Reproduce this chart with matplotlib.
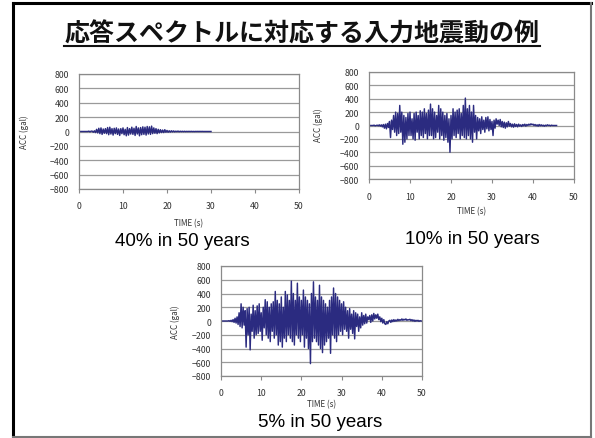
import numpy as np
import matplotlib
matplotlib.use("Agg")
import matplotlib.pyplot as plt
from matplotlib.lines import Line2D

plt.rcParams['font.family'] = ['Noto Sans CJK JP', 'DejaVu Sans']

title = "応答スペクトルに対応する入力地震動の例"
dt = 0.25  # sample interval (s)

# 40% in 50 years (gal)
acc_40 = [
    0, 0, 0, 0,  0, 0, 0, 0,  0, 5, -5, 5,  5, -10, 10, -15,
    30, -20, 45, -30,  50, -40, 35, -25,  40, -30, 55, -45,  60, -35, 40, -50,
    45, -30, 50, -40,  35, -55, 40, -30,  50, -45, 30, -60,  55, -50, 40, -35,
    60, -40, 45, -55,  70, -35, 50, -60,  55, -45, 65, -40,  60, -50, 70, -35,
    65, -40, 75, -30,  50, -25, 40, -30,  30, -20, 25, -15,  20, -15, 25, -10,
    15, -10, 10, -8,  10, -5, 8, -5,  5, -3, 6, -4,  4, -2, 3, -2,
    3, -2, 2, -1,  2, -1, 2, -1,  1, -1, 1, 0,  1, 0, 1, 0,
    1, 0, 0, 0,  0, 0, 0, 0,  0,
]

# 10% in 50 years (gal)
acc_10 = [
    0, 0, 0, 0,  0, 5, -5, 0,  5, -5, 10, -10,  10, -20, 15, -40,
    20, -50, 30, -30,  60, -180, 80, -60,  150, -100, 200, -150,  180, -120, 300, -100,
    200, -280, 150, -250,  120, -200, 180, -150,  200, -150, 100, -200,  180, -220, 200, -100,
    150, -200, 220, -150,  200, -180, 250, -120,  180, -200, 230, -150,  320, -150, 250, -200,
    200, -180, 150, -100,  300, -200, 250, -150,  200, -220, 150, -180,  180, -250, 100, -400,
    150, -200, 250, -150,  200, -180, 230, -120,  250, -200, 180, -150,  300, -180, 410, -200,
    250, -150, 300, -200,  200, -250, 300, -100,  150, -200, 120, -80,  100, -120, 130, -60,
    80, -100, 120, -50,  130, -80, 90, -60,  60, -150, 80, -40,  100, 20, 80, 0,
    90, -20, 60, -30,  50, -40, 40, -20,  60, -10, 30, -20,  20, -25, 25, -15,
    15, -20, 20, -10,  10, -15, 15, -5,  20, -10, 15, 0,  20, 5, 25, 10,
    20, 0, 15, -5,  10, -10, 15, -5,  10, -5, 5, -10,  5, -5, 10, 0,
    5, -5, 5, 0,  0, 0, 0, 0,
]

# 5% in 50 years (gal)
acc_5 = [
    0, 0, 0, 0,  0, 0, 0, 0,  5, -5, 10, -10,  20, -20, 40, -30,
    60, -50, 120, -80,  250, -100, 200, -60,  150, -380, 180, -200,  200, -420, 100, -150,
    230, -250, 150, -200,  220, -180, 250, -150,  120, -280, 200, -100,  310, -200, 280, -250,
    200, -300, 250, -150,  280, -250, 430, -200,  300, -350, 250, -300,  350, -380, 200, -250,
    430, -300, 380, -200,  300, -250, 580, -300,  400, -350, 300, -200,  550, -250, 350, -300,
    300, -200, 450, -380,  350, -250, 300, -400,  250, -620, 400, -300,  570, -250, 350, -300,
    300, -350, 520, -400,  350, -460, 300, -350,  250, -300, 200, -250,  300, -470, 350, -200,
    480, -250, 400, -300,  350, -200, 300, -150,  250, -200, 280, -120,  200, -150, 150, -250,
    180, -120, 100, -180,  150, -260, 120, -80,  100, -150, 60, -100,  120, -60, 80, -40,
    100, -30, 60, 20,  80, -20, 90, 0,  110, 30, 90, 40,  100, 20, 60, -10,
    40, -30, 20, -40,  -50, -10, -40, 0,  10, -20, 15, -10,  20, -5, 15, 0,
    25, 5, 20, 10,  30, 10, 25, 15,  30, 10, 20, 15,  25, 5, 20, 0,
    15, -5, 10, 0,  10, -5, 5, 0,  0,
]

panels = [
    # data, axes rect (px: left, top, right, bottom), caption, caption xy, ACC label xy, TIME label y
    (acc_40, (79, 75, 299, 190), "40% in 50 years", (182, 242), (24, 132), 224),
    (acc_10, (369, 73, 574, 180), "10% in 50 years", (472, 240), (318, 125), 212),
    (acc_5, (221, 267, 422, 377), "5% in 50 years", (320, 423), (175, 322), 405),
]

W, H = 595, 439
fig = plt.figure(figsize=(W / 100, H / 100), dpi=100)
fig.patch.set_facecolor('white')


def fx(x):
    return x / W


def fy(y):
    return 1 - y / H


for data, (l, t, r, b), cap, (cx, cy), (ax_x, ax_y), ty in panels:
    ax = fig.add_axes([fx(l), fy(b), (r - l) / W, (b - t) / H])
    time = np.arange(len(data)) * dt
    ax.plot(time, data, color='#2b2b80', lw=1.05)
    ax.set_xlim(0, 50)
    ax.set_ylim(-800, 800)
    ax.set_xticks(np.arange(0, 51, 10))
    ax.set_yticks(np.arange(-800, 801, 200))
    ax.grid(axis='y', color='#9a9a9a', lw=0.9)
    ax.set_axisbelow(True)
    for s in ax.spines.values():
        s.set_color('#8a8a8a')
        s.set_linewidth(0.9)
    ax.tick_params(axis='y', length=0, pad=7, labelsize=6.3, labelcolor='#333333')
    ax.tick_params(axis='x', length=3, direction='out', color='#8a8a8a',
                   pad=6, labelsize=6.3, labelcolor='#333333')
    fig.text(fx(ax_x), fy(ax_y), "ACC (gal)", rotation=90, ha='center', va='center',
             fontsize=5.8, color='#333333')
    fig.text(fx((l + r) / 2), fy(ty), "TIME (s)", ha='center', va='center',
             fontsize=5.8, color='#333333')
    fig.text(fx(cx), fy(cy), cap, ha='center', va='center', fontsize=13.5,
             family=['Liberation Sans', 'DejaVu Sans'], color='black')

# slide title with underline
fig.text(fx(302), fy(34), title, ha='center', va='center', fontsize=18,
         weight='bold', color='#111111')
fig.add_artist(Line2D([fx(64), fx(540)], [fy(47), fy(47)], color='#111111', lw=1.5))

# slide frame
fig.add_artist(Line2D([fx(13), fx(13)], [fy(4), fy(438)], color='black', lw=2.2))
fig.add_artist(Line2D([fx(13), fx(591)], [fy(4), fy(4)], color='black', lw=2.2))
fig.add_artist(Line2D([fx(591), fx(591)], [fy(4), fy(438)], color='#777777', lw=1.5))
fig.add_artist(Line2D([fx(13), fx(591)], [fy(437.5), fy(437.5)], color='#777777', lw=1.5))

fig.savefig("out.png", dpi=100)
